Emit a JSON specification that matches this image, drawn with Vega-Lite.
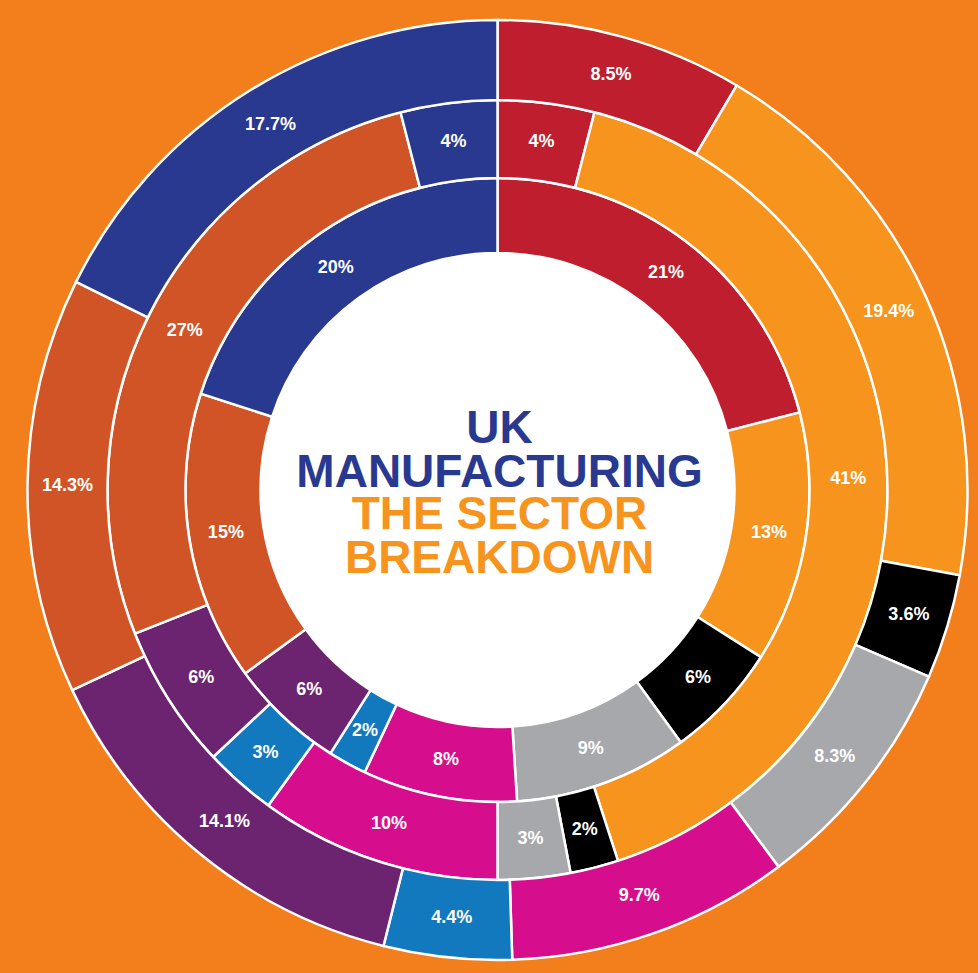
{
  "$schema": "https://vega.github.io/schema/vega-lite/v6.json",
  "width": 978,
  "height": 973,
  "autosize": {"type": "fit", "contains": "padding"},
  "padding": {"left": 17, "top": 7, "right": 0, "bottom": 0},
  "background": "#F37F1C",
  "config": {"view": {"stroke": null}},
  "datasets": {
    "inner": [
      {"k": 1, "sector": "red", "v": 21, "label": "21%"},
      {"k": 2, "sector": "orange", "v": 13, "label": "13%"},
      {"k": 3, "sector": "black", "v": 6, "label": "6%"},
      {"k": 4, "sector": "grey", "v": 9, "label": "9%"},
      {"k": 5, "sector": "magenta", "v": 8, "label": "8%"},
      {"k": 6, "sector": "blue", "v": 2, "label": "2%"},
      {"k": 7, "sector": "purple", "v": 6, "label": "6%"},
      {"k": 8, "sector": "darkorange", "v": 15, "label": "15%"},
      {"k": 9, "sector": "navy", "v": 20, "label": "20%"}
    ],
    "middle": [
      {"k": 1, "sector": "red", "v": 4, "label": "4%"},
      {"k": 2, "sector": "orange", "v": 41, "label": "41%"},
      {"k": 3, "sector": "black", "v": 2, "label": "2%"},
      {"k": 4, "sector": "grey", "v": 3, "label": "3%"},
      {"k": 5, "sector": "magenta", "v": 10, "label": "10%"},
      {"k": 6, "sector": "blue", "v": 3, "label": "3%"},
      {"k": 7, "sector": "purple", "v": 6, "label": "6%"},
      {"k": 8, "sector": "darkorange", "v": 27, "label": "27%"},
      {"k": 9, "sector": "navy", "v": 4, "label": "4%"}
    ],
    "outer": [
      {"k": 1, "sector": "red", "v": 8.5, "label": "8.5%"},
      {"k": 2, "sector": "orange", "v": 19.4, "label": "19.4%"},
      {"k": 3, "sector": "black", "v": 3.6, "label": "3.6%"},
      {"k": 4, "sector": "grey", "v": 8.3, "label": "8.3%"},
      {"k": 5, "sector": "magenta", "v": 9.7, "label": "9.7%"},
      {"k": 6, "sector": "blue", "v": 4.4, "label": "4.4%"},
      {"k": 7, "sector": "purple", "v": 14.1, "label": "14.1%"},
      {"k": 8, "sector": "darkorange", "v": 14.3, "label": "14.3%"},
      {"k": 9, "sector": "navy", "v": 17.7, "label": "17.7%"}
    ],
    "centre": [{"v": 100}],
    "title1": [{"t": "UK\nMANUFACTURING"}],
    "title2": [{"t": "THE SECTOR\nBREAKDOWN"}]
  },
  "layer": [
    {
      "data": {"name": "centre"},
      "mark": {"type": "arc", "radius": 238, "fill": "white"},
      "encoding": {
        "theta": {"field": "v", "type": "quantitative", "stack": true, "scale": {"domain": [0, 100]}}
      }
    },
    {
      "data": {"name": "inner"},
      "mark": {"type": "arc", "radius2": 237, "radius": 312, "stroke": "white", "strokeWidth": 2.5},
      "encoding": {
        "theta": {"field": "v", "type": "quantitative", "stack": true, "scale": {"domain": [0, 100]}},
        "order": {"field": "k", "type": "quantitative"},
        "color": {
          "field": "sector", "type": "nominal", "legend": null,
          "scale": {
            "domain": ["red", "orange", "black", "grey", "magenta", "blue", "purple", "darkorange", "navy"],
            "range": ["#BE1E2D", "#F7941D", "#000000", "#A6A8AB", "#D60D8C", "#1279BF", "#6C2470", "#D15427", "#2A3990"]
          }
        }
      }
    },
    {
      "data": {"name": "middle"},
      "mark": {"type": "arc", "radius2": 312, "radius": 390, "stroke": "white", "strokeWidth": 2.5},
      "encoding": {
        "theta": {"field": "v", "type": "quantitative", "stack": true, "scale": {"domain": [0, 100]}},
        "order": {"field": "k", "type": "quantitative"},
        "color": {
          "field": "sector", "type": "nominal", "legend": null,
          "scale": {
            "domain": ["red", "orange", "black", "grey", "magenta", "blue", "purple", "darkorange", "navy"],
            "range": ["#BE1E2D", "#F7941D", "#000000", "#A6A8AB", "#D60D8C", "#1279BF", "#6C2470", "#D15427", "#2A3990"]
          }
        }
      }
    },
    {
      "data": {"name": "outer"},
      "mark": {"type": "arc", "radius2": 390, "radius": 470, "stroke": "white", "strokeWidth": 2.5},
      "encoding": {
        "theta": {"field": "v", "type": "quantitative", "stack": true, "scale": {"domain": [0, 100]}},
        "order": {"field": "k", "type": "quantitative"},
        "color": {
          "field": "sector", "type": "nominal", "legend": null,
          "scale": {
            "domain": ["red", "orange", "black", "grey", "magenta", "blue", "purple", "darkorange", "navy"],
            "range": ["#BE1E2D", "#F7941D", "#000000", "#A6A8AB", "#D60D8C", "#1279BF", "#6C2470", "#D15427", "#2A3990"]
          }
        }
      }
    },
    {
      "data": {"name": "inner"},
      "mark": {"type": "text", "radius": 275, "fill": "white", "font": "Liberation Sans", "fontWeight": "bold", "fontSize": 18},
      "encoding": {
        "theta": {"field": "v", "type": "quantitative", "stack": true, "scale": {"domain": [0, 100]}},
        "order": {"field": "k", "type": "quantitative"},
        "detail": {"field": "sector", "type": "nominal"},
        "text": {"field": "label", "type": "nominal"}
      }
    },
    {
      "data": {"name": "middle"},
      "mark": {"type": "text", "radius": 351, "fill": "white", "font": "Liberation Sans", "fontWeight": "bold", "fontSize": 18},
      "encoding": {
        "theta": {"field": "v", "type": "quantitative", "stack": true, "scale": {"domain": [0, 100]}},
        "order": {"field": "k", "type": "quantitative"},
        "detail": {"field": "sector", "type": "nominal"},
        "text": {"field": "label", "type": "nominal"}
      }
    },
    {
      "data": {"name": "outer"},
      "mark": {"type": "text", "radius": 430, "fill": "white", "font": "Liberation Sans", "fontWeight": "bold", "fontSize": 18},
      "encoding": {
        "theta": {"field": "v", "type": "quantitative", "stack": true, "scale": {"domain": [0, 100]}},
        "order": {"field": "k", "type": "quantitative"},
        "detail": {"field": "sector", "type": "nominal"},
        "text": {"field": "label", "type": "nominal"}
      }
    },
    {
      "data": {"name": "title1"},
      "mark": {"type": "text", "lineBreak": "\n", "font": "Liberation Sans", "fontWeight": "bold", "fontSize": 46, "lineHeight": 44, "baseline": "bottom", "dy": -37, "dx": 2, "fill": "#2A3990"},
      "encoding": {"text": {"field": "t", "type": "nominal"}}
    },
    {
      "data": {"name": "title2"},
      "mark": {"type": "text", "lineBreak": "\n", "font": "Liberation Sans", "fontWeight": "bold", "fontSize": 46, "lineHeight": 44, "baseline": "top", "dy": 3, "dx": 2, "fill": "#F7941D"},
      "encoding": {"text": {"field": "t", "type": "nominal"}}
    }
  ]
}
